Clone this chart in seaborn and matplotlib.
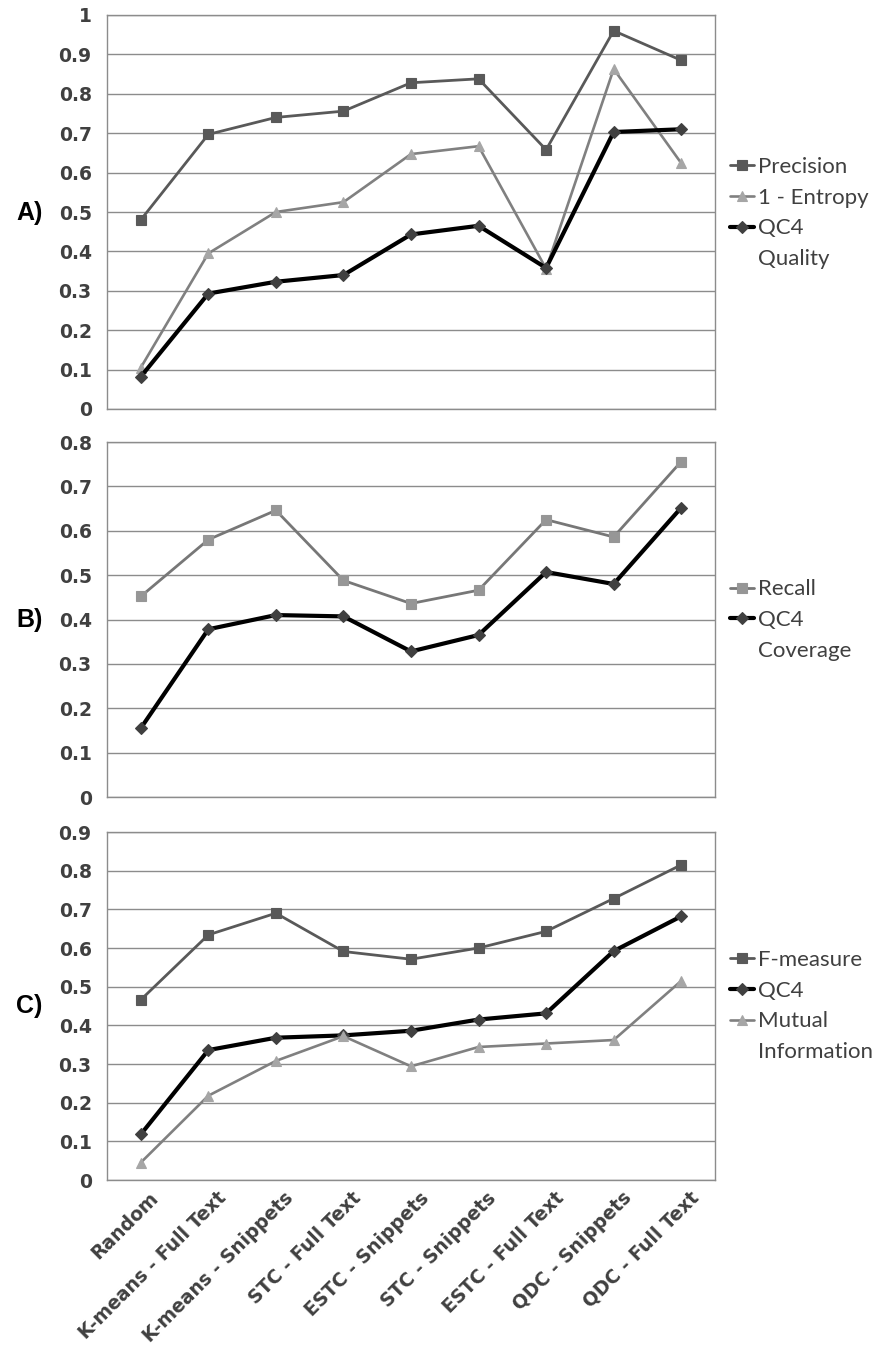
import numpy as np
import pandas as pd
import matplotlib
matplotlib.use("Agg")
import matplotlib.pyplot as plt
import seaborn as sns
from matplotlib.lines import Line2D
from matplotlib.ticker import FuncFormatter
from matplotlib.transforms import ScaledTranslation

# data
methods = ["Random", "K-means - Full Text", "K-means - Snippets", "STC - Full Text",
           "ESTC - Snippets", "STC - Snippets", "ESTC - Full Text", "QDC - Snippets",
           "QDC - Full Text"]

precision = [0.48, 0.697, 0.74, 0.756, 0.828, 0.838, 0.658, 0.960, 0.885]
one_minus_entropy = [0.105, 0.395, 0.50, 0.525, 0.647, 0.667, 0.356, 0.863, 0.624]
qc4_quality = [0.082, 0.293, 0.323, 0.340, 0.443, 0.465, 0.358, 0.703, 0.710]

recall = [0.452, 0.580, 0.646, 0.488, 0.436, 0.466, 0.625, 0.586, 0.756]
qc4_coverage = [0.155, 0.378, 0.410, 0.407, 0.328, 0.365, 0.507, 0.480, 0.652]

f_measure = [0.466, 0.634, 0.690, 0.591, 0.571, 0.600, 0.643, 0.728, 0.815]
qc4_f = [0.118, 0.336, 0.368, 0.374, 0.386, 0.415, 0.431, 0.592, 0.682]
mutual_info = [0.045, 0.218, 0.308, 0.372, 0.294, 0.344, 0.353, 0.362, 0.515]

# styles per series kind
styles = {
    "main": dict(color="#595959", lw=2.0, marker="s", mfc="#595959", mec="#595959", ms=6.5),
    "light": dict(color="#808080", lw=1.9, marker="^", mfc="#a6a6a6", mec="#a6a6a6", ms=6.5),
    "recall": dict(color="#777777", lw=2.0, marker="s", mfc="#969696", mec="#969696", ms=6.5),
    "qc4": dict(color="#000000", lw=3.0, marker="D", mfc="#404040", mec="#404040", ms=6.0),
}

panels = [
    ("A)", 1.0, [("Precision", precision, "main"),
                 ("1 - Entropy", one_minus_entropy, "light"),
                 ("QC4", qc4_quality, "qc4")], "Quality"),
    ("B)", 0.8, [("Recall", recall, "recall"),
                 ("QC4", qc4_coverage, "qc4")], "Coverage"),
    ("C)", 0.9, [("F-measure", f_measure, "main"),
                 ("QC4", qc4_f, "qc4"),
                 ("Mutual", mutual_info, "light")], "Information"),
]
# wrapped second line of a legend label goes right after this entry
extra_after = {"A)": "QC4", "B)": "QC4", "C)": "Mutual"}

sns.set_style("white")
plt.rcParams["font.family"] = ["DejaVu Sans"]

fig = plt.figure(figsize=(8.78, 13.53), dpi=100)
W, H = 878, 1353
# axes boxes in pixels: left, top, right, bottom
boxes = [(107, 15, 715, 409), (107, 442, 715, 797), (107, 832, 715, 1180)]
legend_centers = [(730, 213), (730, 620), (730, 1006)]
label_centers = [(30, 213), (30, 620), (29, 1006)]

grid_c = "#8c8c8c"
text_c = "#404040"
x = np.arange(len(methods))

for i, ((tag, ymax, series, extra), box) in enumerate(zip(panels, boxes)):
    l, t, r, b = box
    ax = fig.add_axes([l / W, 1 - b / H, (r - l) / W, (b - t) / H])
    for name, vals, kind in series:
        st = styles[kind]
        df = pd.DataFrame({"x": x, "y": vals})
        sns.lineplot(data=df, x="x", y="y", ax=ax, color=st["color"], lw=st["lw"],
                     marker=st["marker"], markersize=st["ms"], markerfacecolor=st["mfc"],
                     markeredgecolor=st["mec"], markeredgewidth=0.8, label=name,
                     legend=False, zorder=3)

    ax.set_xlim(-0.5, len(methods) - 0.5)
    ax.set_ylim(0, ymax)
    ax.set_yticks(np.arange(0, ymax + 0.001, 0.1))
    ax.yaxis.set_major_formatter(FuncFormatter(lambda v, _: f"{v:g}"))
    ax.set_xticks(np.arange(-0.5, len(methods)))
    ax.set_xticklabels([])
    ax.set_xlabel("")
    ax.set_ylabel("")
    ax.yaxis.grid(True, color=grid_c, lw=1.0)
    ax.xaxis.grid(False)
    ax.set_axisbelow(True)
    for sp in ax.spines.values():
        sp.set_color(grid_c)
        sp.set_linewidth(1.0)
    ax.tick_params(axis="both", which="major", length=7, width=1, color=grid_c,
                   labelsize=13.5, labelcolor=text_c, pad=4)
    for lab in ax.get_yticklabels():
        lab.set_fontweight("bold")

    if i == 2:
        ax.set_xticks(x, labels=methods, minor=True, rotation=45, ha="right",
                      rotation_mode="anchor", fontsize=13.5, fontweight="bold", color=text_c)
        ax.tick_params(axis="x", which="minor", length=0, pad=6)
        off = ScaledTranslation(8 / 100, 0, fig.dpi_scale_trans)
        for lab in ax.get_xticklabels(minor=True):
            lab.set_transform(lab.get_transform() + off)

    # legend with a blank-handle line for the wrapped label
    handles, labels = ax.get_legend_handles_labels()
    blank = Line2D([], [], linestyle="none", marker=None)
    pos = labels.index(extra_after[tag]) + 1
    handles.insert(pos, blank)
    labels.insert(pos, extra)
    lx, ly = legend_centers[i]
    leg = ax.legend(handles, labels, loc="center left",
                    bbox_to_anchor=(lx / W, 1 - ly / H), bbox_transform=fig.transFigure,
                    frameon=False, borderpad=0, borderaxespad=0, handlelength=1.1,
                    handletextpad=0.15, labelspacing=0.48,
                    prop={"family": "Lato", "size": 16})
    for txt in leg.get_texts():
        txt.set_color(text_c)

    cx, cy = label_centers[i]
    fig.text(cx / W, 1 - cy / H, tag, ha="center", va="center", fontsize=18,
             fontweight="bold", family="Liberation Sans", color="black")

fig.savefig("out.png", dpi=100, facecolor="white")
